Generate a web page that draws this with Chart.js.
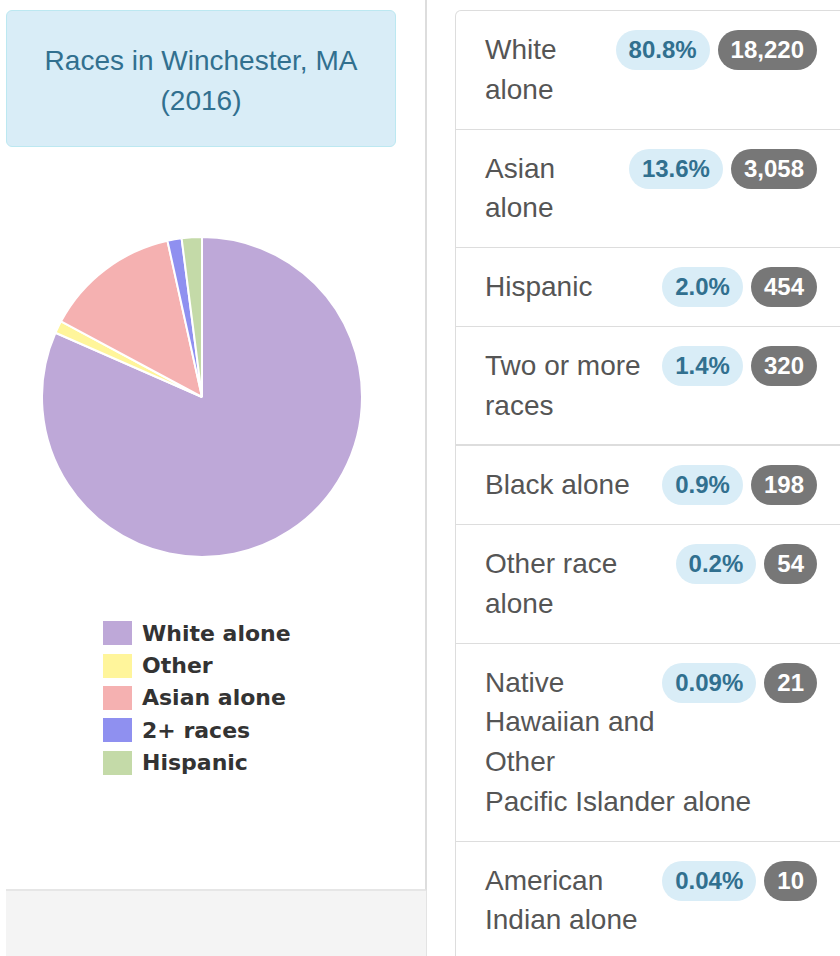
<!DOCTYPE html>
<html>
<head>
<meta charset="utf-8">
<script src="https://cdn.jsdelivr.net/npm/chart.js@4.4.0/dist/chart.umd.min.js"></script>
<style>
body { margin:0; width:840px; height:956px; overflow:hidden; background:#fff; position:relative;
  font-family:"Liberation Sans", Arial, sans-serif; }
#leftPanel { position:absolute; left:6px; top:-10px; width:419px; height:899px; background:#fff;
  border-right:2px solid #ddd; border-bottom:2px solid #e6e6e6; }
#leftFooter { position:absolute; left:6px; top:891px; width:420px; height:65px; background:#f4f4f4;
  border-right:1px solid #e3e3e3; }
#titleBox { position:absolute; left:6px; top:10px; width:388px; height:80px; padding:30px 0 25px;
  background:#d9edf7; border:1px solid #bce8f1; border-radius:6px; color:#31708f;
  font-size:28px; line-height:40px; text-align:center; }
#pieWrap { position:absolute; left:41px; top:236px; width:322px; height:322px; }
#legend { position:absolute; left:103px; top:617px; }
.legItem { height:32.4px; display:flex; align-items:center; font:bold 22px "DejaVu Sans", Verdana, sans-serif; color:#333; }
.legSwatch { width:29px; height:24px; margin-right:10px; }
#list { position:absolute; left:455px; top:10px; width:400px; border:1px solid #ddd; border-bottom:none;
  border-radius:6px 0 0 0; }
.item { position:relative; padding:19px 30px 19px 29px; border-top:1px solid #ddd;
  line-height:39.75px; font-size:28px; color:#555; white-space:nowrap; }
.item:first-child { border-top:none; }
.item.split { border-top:2px solid #ddd; }
.badges { position:absolute; right:39px; top:19px; display:flex; gap:8px; }
.badge { height:40px; line-height:40px; padding:0 13px; border-radius:20px; font-weight:bold; font-size:24px; }
.pct { background:#d9edf7; color:#31708f; }
.cnt { background:#777; color:#fff; }
</style>
</head>
<body>
<div id="leftPanel"></div>
<div id="leftFooter"></div>
<div id="titleBox">Races in Winchester, MA<br>(2016)</div>
<div id="pieWrap"><canvas id="racePie"></canvas></div>
<div id="legend"></div>
<div id="list"></div>

<script>
// pie data
const pieLabels = ['White alone', 'Other', 'Asian alone', '2+ races', 'Hispanic'];
const pieValues = [18220, 283, 3058, 320, 454];
const pieColors = ['#bea8d8', '#fff59b', '#f5b1b1', '#8f90f0', '#c4daa8'];

// list on the right
const listLabels = [
    ['White', 'alone'],
    ['Asian', 'alone'],
    ['Hispanic'],
    ['Two or more', 'races'],
    ['Black alone'],
    ['Other race', 'alone'],
    ['Native', 'Hawaiian and', 'Other', 'Pacific Islander alone'],
    ['American', 'Indian alone']
];
const listPct = ['80.8%', '13.6%', '2.0%', '1.4%', '0.9%', '0.2%', '0.09%', '0.04%'];
const listCounts = ['18,220', '3,058', '454', '320', '198', '54', '21', '10'];

const ctx = document.getElementById('racePie').getContext('2d');
const racePie = new Chart(ctx, {
    type: 'pie',
    data: {
        labels: pieLabels,
        datasets: [{
            data: pieValues,
            backgroundColor: pieColors,
            borderColor: '#fff',
            borderWidth: 2,
        }],
    },
    options: {
        responsive: true,
        maintainAspectRatio: false,
        animation: false,
        layout: { padding: 0 },
        plugins: {
            legend: { display: false },
            tooltip: { enabled: false },
        },
    },
});

// html legend from the chart's own legend items
const legendEl = document.getElementById('legend');
racePie.options.plugins.legend.labels.generateLabels(racePie).forEach(item => {
    const row = document.createElement('div');
    row.className = 'legItem';
    row.innerHTML = `<span class="legSwatch" style="background:${item.fillStyle}"></span>${item.text}`;
    legendEl.appendChild(row);
});

// list group
const listEl = document.getElementById('list');
listLabels.forEach((lines, i) => {
    const li = document.createElement('div');
    li.className = 'item' + (i === 4 ? ' split' : '');
    li.innerHTML = lines.join('<br>') +
        `<div class="badges"><span class="badge pct">${listPct[i]}</span><span class="badge cnt">${listCounts[i]}</span></div>`;
    listEl.appendChild(li);
});
</script>
</body>
</html>
